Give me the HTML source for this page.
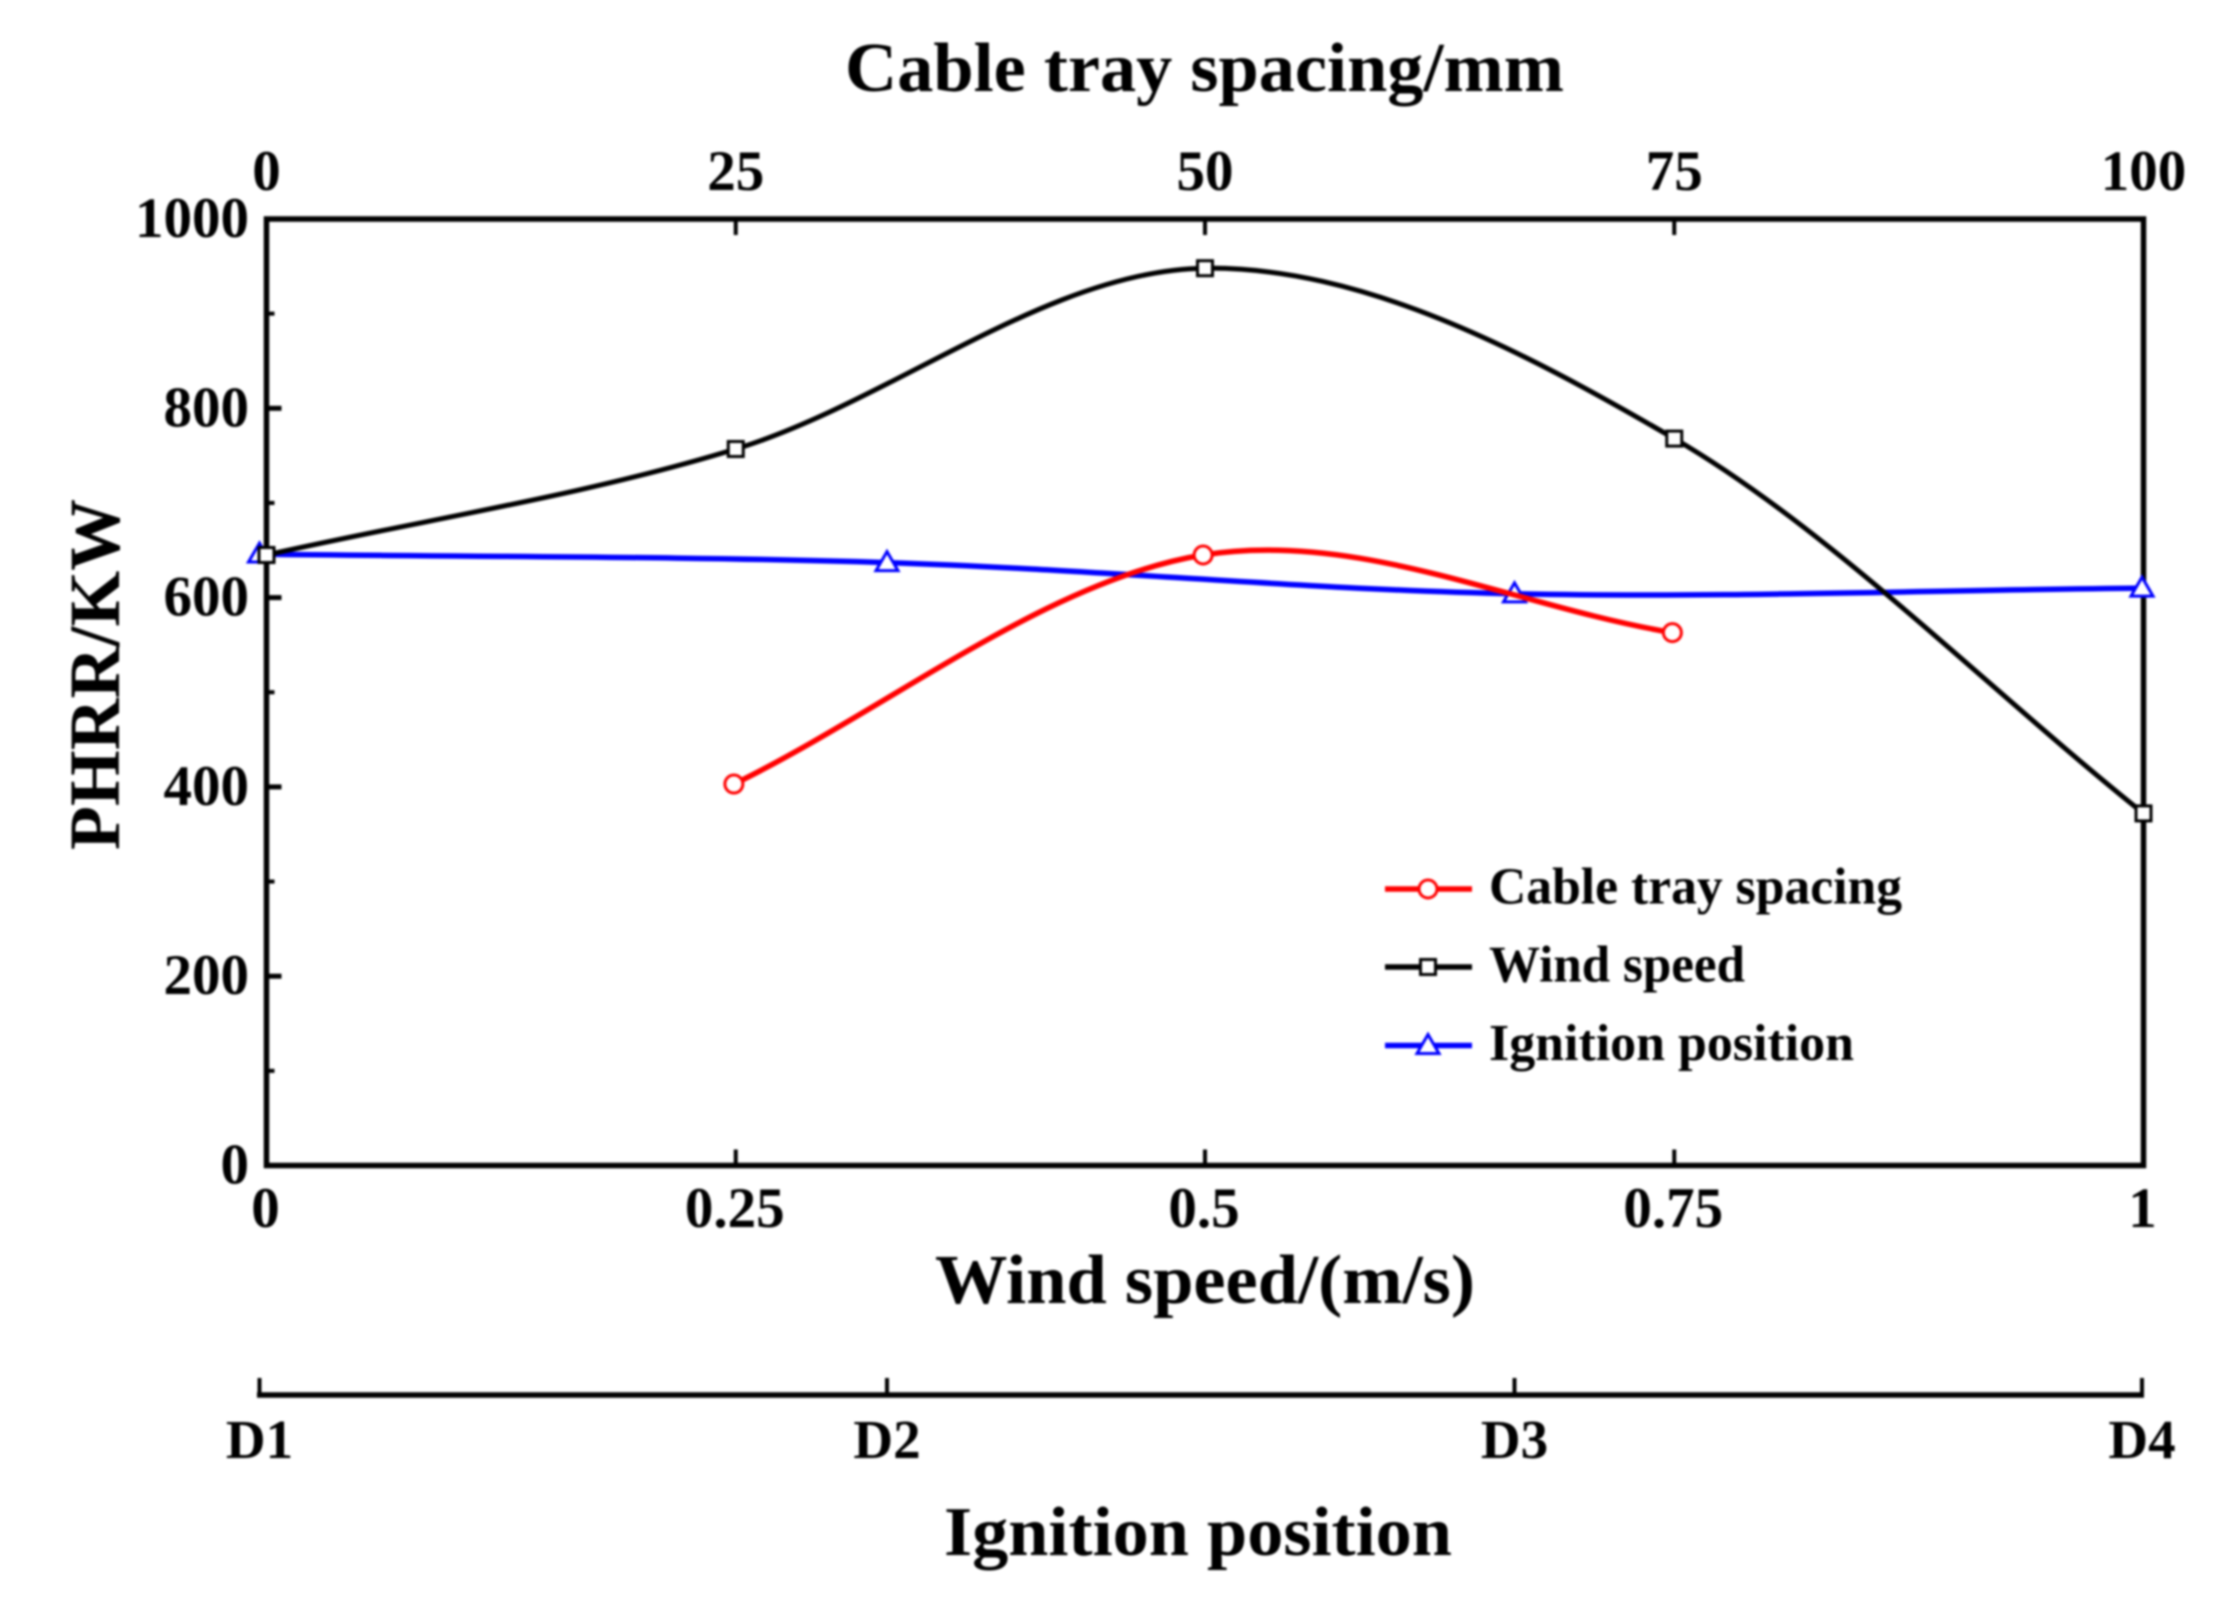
<!DOCTYPE html>
<html>
<head>
<meta charset="utf-8">
<title>PHRR chart</title>
<style>
html,body{margin:0;padding:0;background:#fff;width:2217px;height:1614px;overflow:hidden}
svg{display:block;filter:blur(1px)}
text{font-family:"Liberation Serif",serif;font-weight:bold;fill:#000}
</style>
</head>
<body>
<svg id="chart" xmlns="http://www.w3.org/2000/svg" width="2217" height="1614" viewBox="0 0 2217 1614">
  <rect x="0" y="0" width="2217" height="1614" fill="#fff"/>
  <text x="845" y="91" font-size="70" textLength="719" lengthAdjust="spacingAndGlyphs">Cable tray spacing/mm</text>
  <text x="935" y="1303" font-size="70" textLength="540" lengthAdjust="spacingAndGlyphs">Wind speed/(m/s)</text>
  <text x="944" y="1555" font-size="70" textLength="508" lengthAdjust="spacingAndGlyphs">Ignition position</text>
  <text transform="translate(119,850) rotate(-90)" font-size="72" textLength="351" lengthAdjust="spacingAndGlyphs">PHRR/KW</text>
  <g id="axes"></g>
  <g id="series"></g>
  <g id="legend"></g>
</svg>
<script>
// ---- chart data ----
const yTicks = [0, 200, 400, 600, 800, 1000];
const yMinorTicks = [100, 300, 500, 700, 900];
const windTicks = [0, 0.25, 0.5, 0.75, 1];
const spacingTicks = [0, 25, 50, 75, 100];
const ignitionCategories = ['D1', 'D2', 'D3', 'D4'];

const windSpeeds = [0, 0.25, 0.5, 0.75, 1];
const windPHRR = [645, 757, 948, 768, 372];

const traySpacings = [24.9, 49.9, 74.9];
const trayPHRR = [403, 645, 563];

const ignitionIndex = [0, 1, 2, 3];
const ignitionPHRR = [646, 637, 604, 610];

const legendLabels = ['Cable tray spacing', 'Wind speed', 'Ignition position'];

// ---- axis functions ----
const PLOT = { left: 266.5, right: 2143.5, top: 219, bottom: 1165.5 };
const IGN = { left: 259.5, right: 2142, y: 1395 };
const yScale = v => PLOT.bottom + (PLOT.top - PLOT.bottom) * v / 1000;
const windScale = v => PLOT.left + (PLOT.right - PLOT.left) * v;
const spacingScale = v => PLOT.left + (PLOT.right - PLOT.left) * v / 100;
const ignitionScale = i => IGN.left + (IGN.right - IGN.left) * i / 3;

const NS = 'http://www.w3.org/2000/svg';
function make(tag, attrs, parent, text) {
  const el = document.createElementNS(NS, tag);
  for (const k in attrs) el.setAttribute(k, attrs[k]);
  if (text !== undefined) el.textContent = text;
  parent.appendChild(el);
  return el;
}

// smooth curve through the data points (cubic Hermite segments, central-difference
// tangents inside, chord tangents at the two ends)
function splinePath(xs, ys) {
  const n = xs.length;
  const tangent = i => {
    if (i === 0) return (ys[1] - ys[0]) / (xs[1] - xs[0]);
    if (i === n - 1) return (ys[n - 1] - ys[n - 2]) / (xs[n - 1] - xs[n - 2]);
    return (ys[i + 1] - ys[i - 1]) / (xs[i + 1] - xs[i - 1]);
  };
  let path = 'M' + xs[0].toFixed(1) + ' ' + ys[0].toFixed(1);
  for (let i = 0; i < n - 1; i++) {
    const h = xs[i + 1] - xs[i];
    const m0 = tangent(i), m1 = tangent(i + 1);
    path += 'C' + (xs[i] + h / 3).toFixed(1) + ' ' + (ys[i] + m0 * h / 3).toFixed(1) + ' ' +
      (xs[i + 1] - h / 3).toFixed(1) + ' ' + (ys[i + 1] - m1 * h / 3).toFixed(1) + ' ' +
      xs[i + 1].toFixed(1) + ' ' + ys[i + 1].toFixed(1);
  }
  return path;
}

const axes = document.getElementById('axes');
const series = document.getElementById('series');
const legend = document.getElementById('legend');

// ---- frame and ticks ----
const frame = make('rect', { x: PLOT.left, y: PLOT.top, width: PLOT.right - PLOT.left, height: PLOT.bottom - PLOT.top, fill: 'none', stroke: '#000', 'stroke-width': 5.5 }, axes);



yTicks.forEach(v => {
  const tick = make('line', { x1: PLOT.left, x2: PLOT.left + 15, y1: yScale(v), y2: yScale(v), stroke: '#000', 'stroke-width': 5 }, axes);
  
  
  const label = make('text', { x: 249, y: yScale(v) + 18, 'font-size': 57, 'text-anchor': 'end' }, axes, String(v));
  
  
});
yMinorTicks.forEach(v => {
  const tick = make('line', { x1: PLOT.left, x2: PLOT.left + 8, y1: yScale(v), y2: yScale(v), stroke: '#000', 'stroke-width': 4 }, axes);
  
  
});
windTicks.forEach(v => {
  const x = windScale(v);
  const tick = make('line', { x1: x, x2: x, y1: PLOT.bottom, y2: PLOT.bottom - 16, stroke: '#000', 'stroke-width': 4 }, axes);
  
  
  const label = make('text', { x: x - 1, y: 1227, 'font-size': 57, 'text-anchor': 'middle' }, axes, String(v));
  
  
});
spacingTicks.forEach(v => {
  const x = spacingScale(v);
  const tick = make('line', { x1: x, x2: x, y1: PLOT.top, y2: PLOT.top + 16, stroke: '#000', 'stroke-width': 4 }, axes);
  
  
  const label = make('text', { x: x, y: 190, 'font-size': 57, 'text-anchor': 'middle' }, axes, String(v));
  
  
});

// ---- ignition position axis ----
const ignLine = make('line', { x1: IGN.left - 2.5, x2: IGN.right + 2, y1: IGN.y, y2: IGN.y, stroke: '#000', 'stroke-width': 5.5 }, axes);


ignitionCategories.forEach((name, i) => {
  const x = ignitionScale(i);
  const tick = make('line', { x1: x, x2: x, y1: IGN.y, y2: IGN.y - 17, stroke: '#000', 'stroke-width': 4 }, axes);
  
  
  const label = make('text', { x: x, y: 1458, 'font-size': 55, 'text-anchor': 'middle' }, axes, name);
  
  
});

// ---- markers ----
function squareMarker(parent, x, y) {
  return make('rect', { x: x - 7.5, y: y - 7.5, width: 15, height: 15, fill: '#fff', stroke: '#000', 'stroke-width': 3 }, parent);
}
function circleMarker(parent, x, y) {
  return make('circle', { cx: x, cy: y, r: 9, fill: '#fff', stroke: '#f00', 'stroke-width': 3 }, parent);
}
function triangleMarker(parent, x, y) {
  const p = (x - 11) + ',' + (y + 8) + ' ' + (x + 11) + ',' + (y + 8) + ' ' + x + ',' + (y - 11);
  return make('polygon', { points: p, fill: '#fff', stroke: '#00f', 'stroke-width': 3 }, parent);
}

// ---- series: ignition position ----
const ignXs = ignitionIndex.map(ignitionScale);
const ignYs = ignitionPHRR.map(yScale);
const ignCurve = make('path', { d: splinePath(ignXs, ignYs), fill: 'none', stroke: '#00f', 'stroke-width': 5.5 }, series);


ignXs.forEach((x, i) => {
  const m = triangleMarker(series, x, ignYs[i]);
  
  
});

// ---- series: wind speed ----
const windXs = windSpeeds.map(windScale);
const windYs = windPHRR.map(yScale);
const windCurve = make('path', { d: splinePath(windXs, windYs), fill: 'none', stroke: '#000', 'stroke-width': 5 }, series);


windXs.forEach((x, i) => {
  const m = squareMarker(series, x, windYs[i]);
  
  
});

// ---- series: cable tray spacing ----
const trayXs = traySpacings.map(spacingScale);
const trayYs = trayPHRR.map(yScale);
const trayCurve = make('path', { d: splinePath(trayXs, trayYs), fill: 'none', stroke: '#f00', 'stroke-width': 5.5 }, series);


trayXs.forEach((x, i) => {
  const m = circleMarker(series, x, trayYs[i]);
  
  
});

// ---- legend ----
const legendRows = [889, 967, 1045.5];
const legendColors = ['#f00', '#000', '#00f'];
const legendMarkers = [circleMarker, squareMarker, triangleMarker];
const legendWidths = [413, 256, 365];
legendLabels.forEach((name, i) => {
  const y = legendRows[i];
  const line = make('line', { x1: 1385, x2: 1472, y1: y, y2: y, stroke: legendColors[i], 'stroke-width': 5.5 }, legend);
  
  
  const m = legendMarkers[i](legend, 1428, y);
  
  
  const label = make('text', { x: 1489, y: y + 14.5, 'font-size': 52, textLength: legendWidths[i], lengthAdjust: 'spacingAndGlyphs' }, legend, name);
  
  
});
</script>
</body>
</html>
